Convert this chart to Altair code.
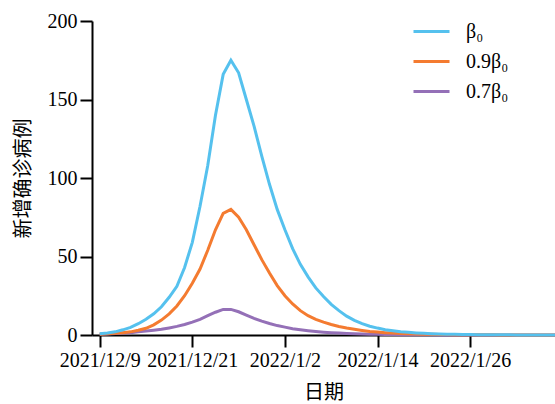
import altair as alt
import pandas as pd

# Day 0 = 2021/12/9, 60 daily values
start_date = "2021-12-09"
n_days = 60

series_names = ["β₀", "0.9β₀", "0.7β₀"]
series_colors = ["#55C1EE", "#F47B30", "#9470B7"]

beta0 = [0.8, 1.3, 2.0, 3.3, 4.8, 7.2, 10.0, 13.5, 18.0, 24.0,
         31.0, 43.0, 59.0, 82.0, 108.0, 140.0, 166.0, 175.0, 167.0, 150.0,
         133.0, 114.0, 96.0, 80.0, 67.0, 55.0, 45.0, 37.0, 30.0, 24.5,
         19.5, 15.5, 12.0, 9.3, 7.2, 5.6, 4.4, 3.4, 2.7, 2.1,
         1.7, 1.35, 1.1, 0.85, 0.7, 0.55, 0.45, 0.35, 0.28, 0.22,
         0.18, 0.14, 0.11, 0.09, 0.07, 0.06, 0.05, 0.04, 0.03, 0.03]

beta09 = [0.5, 0.8, 1.1, 1.5, 2.0, 3.0, 4.3, 6.5, 9.5, 13.5,
          18.5, 25.0, 33.0, 42.0, 54.0, 67.0, 77.5, 80.0, 75.0, 67.0,
          57.5, 48.0, 39.5, 31.5, 25.0, 19.8, 15.5, 12.3, 10.0, 8.2,
          6.7, 5.4, 4.4, 3.6, 2.9, 2.3, 1.9, 1.5, 1.2, 1.0,
          0.8, 0.65, 0.52, 0.42, 0.34, 0.28, 0.22, 0.18, 0.15, 0.12,
          0.1, 0.08, 0.07, 0.06, 0.05, 0.04, 0.03, 0.03, 0.02, 0.02]

beta07 = [0.4, 0.6, 0.9, 1.2, 1.5, 2.0, 2.5, 3.0, 3.6, 4.5,
          5.5, 6.7, 8.2, 10.0, 12.3, 14.5, 16.3, 16.3, 14.8, 12.7,
          10.6, 8.8, 7.3, 6.0, 5.0, 4.0, 3.3, 2.7, 2.2, 1.8,
          1.5, 1.2, 1.0, 0.8, 0.65, 0.5, 0.4, 0.32, 0.26, 0.2,
          0.16, 0.13, 0.1, 0.08, 0.06, 0.05, 0.04, 0.03, 0.03, 0.02,
          0.02, 0.02, 0.01, 0.01, 0.01, 0.01, 0.01, 0.01, 0.01, 0.01]

tick_dates = [(2021, 12, 9), (2021, 12, 21), (2022, 1, 2), (2022, 1, 14), (2022, 1, 26)]
y_ticks = [0, 50, 100, 150, 200]

SERIF = "Liberation Serif"

dates = pd.date_range(start_date, periods=n_days).strftime("%Y-%m-%d").tolist()
frames = []
for name, vals in zip(series_names, [beta0, beta09, beta07]):
    frames.append(pd.DataFrame({"date": dates, "value": vals, "series": name}))
df = pd.concat(frames, ignore_index=True)

color_scale = alt.Scale(domain=series_names, range=series_colors)

x_enc = alt.X(
    "date:T",
    scale=alt.Scale(
        type="utc",
        nice=False,
        domain=[alt.DateTime(year=2021, month=12, date=8, utc=True),
                alt.DateTime(year=2022, month=2, date=6, utc=True)],
    ),
    axis=alt.Axis(
        values=[alt.DateTime(year=y, month=m, date=d, utc=True) for y, m, d in tick_dates],
        format="%Y/%-m/%-d",
        title="日期",
        titlePadding=12,
    ),
)
y_enc = alt.Y(
    "value:Q",
    scale=alt.Scale(domain=[0, 200], nice=False),
    axis=alt.Axis(values=y_ticks, title="新增确诊病例", titlePadding=14),
)
color_enc = alt.Color(
    "series:N",
    scale=color_scale,
    legend=alt.Legend(
        orient="none",
        legendX=320,
        legendY=-9,
        title=None,
        symbolType="stroke",
        symbolSize=1296,
        symbolStrokeWidth=3,
        labelFontSize=20,
        labelFont=SERIF,
        labelColor="black",
        labelOffset=15,
        rowPadding=-6.5,
        padding=0,
    ),
)

layers = []
for name in reversed(series_names):
    layers.append(
        alt.Chart(df)
        .transform_filter(alt.datum.series == name)
        .mark_line(strokeWidth=3)
        .encode(x=x_enc, y=y_enc, color=color_enc)
    )

chart = (
    alt.layer(*layers)
    .properties(
        width=463,
        height=314,
        autosize=alt.AutoSizeParams(type="none"),
        padding={"left": 92, "top": 21, "right": 0, "bottom": 69},
    )
    .configure_view(stroke=None)
    .configure_axis(
        grid=False,
        domainColor="black",
        domainWidth=2,
        tickColor="black",
        tickWidth=2,
        tickSize=12,
        labelPadding=3,
        labelFont=SERIF,
        labelFontSize=20,
        labelColor="black",
        titleFont="Noto Sans CJK SC",
        titleFontSize=20,
        titleFontWeight="normal",
        titleColor="black",
    )
)

chart.save("out.html", embed_options={"renderer": "svg", "actions": False})
